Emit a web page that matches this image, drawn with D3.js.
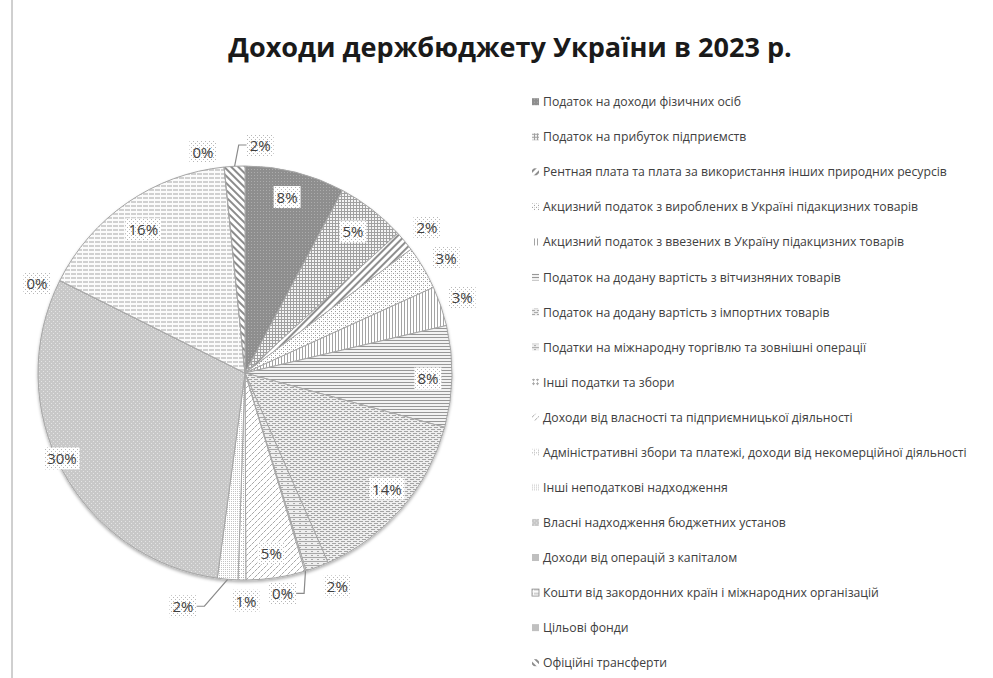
<!DOCTYPE html>
<html>
<head>
<meta charset="utf-8">
<script src="https://cdn.jsdelivr.net/npm/d3@7"></script>
<style>
  html, body { margin: 0; padding: 0; background: #fff; }
  svg { display: block; }
</style>
</head>
<body>
<svg id="chart" width="993" height="678"></svg>
<script>
// Revenue items of the 2023 state budget, in legend / slice order
const categories = [
  "Податок на доходи фізичних осіб",
  "Податок на прибуток підприємств",
  "Рентная плата та плата за використання інших природних ресурсів",
  "Акцизний податок з вироблених в Україні підакцизних товарів",
  "Акцизний податок з ввезених  в Україну підакцизних товарів",
  "Податок на додану вартість з вітчизняних товарів",
  "Податок на додану вартість з імпортних товарів",
  "Податки на міжнародну торгівлю та зовнішні операції",
  "Інші податки та збори",
  "Доходи від власності та підприємницької діяльності",
  "Адміністративні збори та платежі, доходи від некомерційної діяльності",
  "Інші неподаткові надходження",
  "Власні надходження бюджетних установ",
  "Доходи від операцій з капіталом",
  "Кошти від закордонних країн і міжнародних організацій",
  "Цільові фонди",
  "Офіційні трансферти"
];

// Share of total revenue, %
const shares = [7.8, 5.4, 1.6, 3.4, 3.1, 7.9, 14.2, 1.8, 0.1, 4.6, 0.6, 1.6, 30.2, 0.02, 16.0, 0.01, 1.6];

const title = "Доходи держбюджету України в 2023 р.";

// Label placement around each slice: radius factor, angular nudge (deg), leader line
const labelPlacement = [
  [0.874, -0.6, false], [0.86, -0.5, false], [1.126, 0.9, false], [1.119, 0.8, false],
  [1.111, -0.4, false], [0.884, 0.7, false], [0.884, -1.6, false], [1.123, -3.0, false],
  [1.08, 7.3, true], [0.88, 0.2, false], [1.10, -1.1, false], [1.166, 10.1, true],
  [0.976, 2.9, false], [1.095, -3.2, false], [0.85, -0.7, false], [1.087, -5.0, false],
  [1.104, 6.7, true]
];

const W = 993, H = 678;
const cx = 245, cy = 373, R = 207;
const textColor = "#404040";
const fontFamily = "'Open Sans', 'Noto Sans', sans-serif";

const svg = d3.select("#chart");
const defs = svg.append("defs");

// ---- fill patterns ----
function pattern(id, w, h, bg, shapes, transform) {
  const p = defs.append("pattern")
    .attr("id", id).attr("patternUnits", "userSpaceOnUse")
    .attr("width", w).attr("height", h);
  if (transform) p.attr("patternTransform", transform);
  p.append("rect").attr("width", w).attr("height", h).attr("fill", bg);
  shapes.forEach(s => {
    if (s.d) {
      p.append("path").attr("d", s.d).attr("stroke", s.c).attr("stroke-width", s.sw || 1).attr("fill", "none");
    } else {
      p.append("rect").attr("x", s[0]).attr("y", s[1]).attr("width", s[2]).attr("height", s[3]).attr("fill", s[4]);
    }
  });
  return "url(#" + id + ")";
}

const fills = [
  pattern("f0", 3, 3, "#8e8e8e", [[0, 0, 1, 1, "#acacac"]]),
  pattern("f1", 3, 3, "#f4f4f4", [[0, 0, 3, 1, "#a0a0a0"], [0, 0, 1, 3, "#a0a0a0"]]),
  pattern("f2", 5, 5, "#ffffff", [[0, 0, 2, 5, "#8f8f8f"]], "rotate(45)"),
  pattern("f3", 4, 4, "#ffffff", [[0, 0, 1, 1, "#9a9a9a"], [2, 2, 1, 1, "#9a9a9a"], [2, 0, 1, 1, "#d4d4d4"]]),
  pattern("f4", 3, 3, "#ffffff", [[0, 0, 1, 3, "#a4a4a4"]]),
  pattern("f5", 3, 3, "#f2f2f2", [[0, 0, 3, 1, "#979797"]]),
  pattern("f6", 6, 4, "#eeeeee", [[0, 0, 4, 1, "#a4a4a4"], [3, 2, 3, 1, "#a4a4a4"], [0, 2, 1, 1, "#a4a4a4"]]),
  pattern("f7", 6, 4, "#eeeeee", [[0, 0, 6, 1, "#a8a8a8"], [0, 2, 2, 1, "#a8a8a8"]]),
  pattern("f8", 4, 4, "#ffffff", [[1, 0, 1, 3, "#aaaaaa"], [0, 1, 3, 1, "#aaaaaa"]]),
  pattern("f9", 6, 6, "#ffffff", [{ d: "M0.5,3.5 L3.5,0.5 M3.5,6.5 L6.5,3.5", c: "#a8a8a8" }]),
  pattern("f10", 4, 4, "#ffffff", [[0, 0, 1, 1, "#b4b4b4"], [2, 2, 1, 1, "#b4b4b4"], [2, 0, 1, 1, "#b4b4b4"]]),
  pattern("f11", 2, 2, "#ffffff", [[0, 0, 1, 1, "#c4c4c4"]]),
  pattern("f12", 4, 4, "#c8c8c8", [[0, 0, 1, 1, "#e4e4e4"], [2, 2, 1, 1, "#e4e4e4"]]),
  "#bfbfbf",
  pattern("f14", 6, 4, "#fbfbfb", [[0, 0, 5, 2, "#d0d0d0"]]),
  "#c0c0c0",
  pattern("f16", 5, 5, "#ffffff", [[0, 0, 2, 5, "#8c8c8c"]], "rotate(-45)")
];

const labelFill = pattern("lbl", 4, 4, "#ffffff", [[0, 0, 1, 1, "#b8b8b8"], [2, 2, 1, 1, "#b8b8b8"]]);

// soft shadow under the pie
const shadow = defs.append("filter").attr("id", "pieShadow")
  .attr("x", "-10%").attr("y", "-10%").attr("width", "120%").attr("height", "120%");
shadow.append("feDropShadow").attr("dx", 0).attr("dy", 2).attr("stdDeviation", 1.6)
  .attr("flood-color", "#000").attr("flood-opacity", 0.3);

// left frame line
svg.append("line").attr("x1", 12).attr("x2", 12).attr("y1", 0).attr("y2", H)
  .attr("stroke", "#a0a0a0").attr("stroke-width", 1);

// ---- title ----
const titleText = svg.append("text")
  .attr("x", 510).attr("y", 57)
  .attr("text-anchor", "middle")
  .attr("font-family", fontFamily)
  .attr("font-weight", "bold")
  .attr("font-size", 28)
  .attr("fill", "#1a1a1a")
  .text(title);
{
  const w = titleText.node().getComputedTextLength();
  titleText.attr("font-size", 28 * 564 / w);
}

// ---- pie ----
const total = d3.sum(shares);
const pie = d3.pie().sort(null).value(d => d);
const arcs = pie(shares);
const arc = d3.arc().innerRadius(0).outerRadius(R);

const g = svg.append("g").attr("transform", `translate(${cx},${cy})`);
g.append("g").attr("filter", "url(#pieShadow)")
  .selectAll("path").data(arcs).join("path")
  .attr("d", arc)
  .attr("fill", (d, i) => fills[i])
  .attr("stroke", "#a6a6a6")
  .attr("stroke-width", 1)
  .attr("stroke-linejoin", "round");

// ---- data labels ----
const labels = g.append("g");
arcs.forEach((d, i) => {
  const [rf, da, leader] = labelPlacement[i];
  const mid = (d.startAngle + d.endAngle) / 2;
  const a = mid + da * Math.PI / 180;
  const x = rf * R * Math.sin(a);
  const y = -rf * R * Math.cos(a);
  const txt = Math.round(d.value / total * 100) + "%";

  const lg = labels.append("g");
  const box = lg.append("rect");
  const t = lg.append("text")
    .attr("x", x).attr("y", y)
    .attr("text-anchor", "middle")
    .attr("dominant-baseline", "central")
    .attr("font-family", fontFamily)
    .attr("font-size", 15)
    .attr("fill", textColor)
    .text(txt);
  const bb = t.node().getBBox();
  const bw = bb.width + 6, bh = 22;
  box.attr("x", x - bw / 2).attr("y", y - bh / 2)
    .attr("width", bw).attr("height", bh)
    .attr("fill", labelFill);

  if (leader) {
    const px = R * Math.sin(mid), py = -R * Math.cos(mid);
    const side = px > x ? 1 : -1;
    const ex = x + side * bw / 2;
    const pts = [[ex, y], [ex + side * 8, y], [px, py]];
    lg.insert("polyline", "rect")
      .attr("points", pts.map(p => p.join(",")).join(" "))
      .attr("fill", "none")
      .attr("stroke", "#8a8a8a")
      .attr("stroke-width", 1.2);
  }
});

// ---- legend ----
const legendY = d3.scalePoint().domain(d3.range(categories.length)).range([101.7, 662.7]);
const legend = svg.append("g");
const rows = legend.selectAll("g").data(categories).join("g")
  .attr("transform", (d, i) => `translate(0,${legendY(i)})`);
rows.append("rect")
  .attr("x", 532).attr("y", -3.5).attr("width", 7).attr("height", 7)
  .attr("fill", (d, i) => fills[i])
  .attr("stroke", (d, i) => i === 14 ? "#8a8a8a" : "none")
  .attr("stroke-width", 0.8);
const legendTexts = rows.append("text")
  .attr("x", 543).attr("y", 0)
  .attr("dominant-baseline", "central")
  .attr("font-family", fontFamily)
  .attr("font-size", 13)
  .attr("fill", textColor)
  .text(d => d);
{
  const maxW = d3.max(legendTexts.nodes(), n => n.getComputedTextLength());
  legendTexts.attr("font-size", 13 * 424 / maxW);
}
</script>
</body>
</html>
